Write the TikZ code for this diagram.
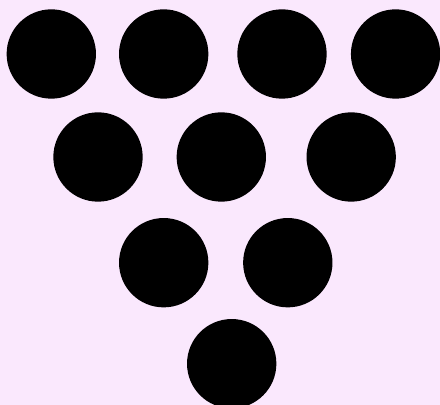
\documentclass[tikz,border=0pt]{standalone}
\usepackage{xcolor}
\usepackage{tikz}
\usetikzlibrary{positioning, calc}
\definecolor{bgpink}{RGB}{250,232,253}

\begin{document}
\begin{tikzpicture}[x=0.03cm, y=-0.03cm,
    ball/.style={circle, fill=black, inner sep=0pt, minimum size=2.68cm}]
    % 背景
    \fill[bgpink] (0, 0) rectangle (440, 405);
    \useasboundingbox (0, 0) rectangle (440, 405);
    
    % 第一行
    \node[ball] (b1) at (51.3, 54) {};
    \node[ball] (b2) at (163.7, 54) {};
    \node[ball] (b3) at (282, 54) {};
    \node[ball] (b4) at (395.6, 54) {};
    
    % 第二行
    \node[ball] (b5) at (98, 157) {};
    \node[ball] (b6) at (221.3, 157) {};
    \node[ball] (b7) at (351.2, 157) {};
    
    % 第三行
    \node[ball] (b8) at (163.7, 262.7) {};
    \node[ball] (b9) at (287.8, 262.7) {};
    
    % 第四行
    \node[ball] (b10) at (231.7, 363.7) {};
\end{tikzpicture}
\end{document}
